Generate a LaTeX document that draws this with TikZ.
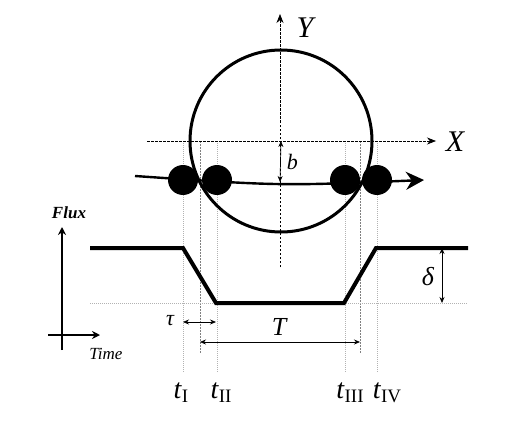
\documentclass[tikz,border=0pt]{standalone}
\usepackage{fontspec}
\setmainfont{Liberation Serif}
\usetikzlibrary{arrows.meta,backgrounds}
\newcommand{\tsub}[1]{\textit{t}\kern0.5pt\raisebox{-0.35ex}{\fontsize{19}{19}\selectfont\upshape #1}}

\begin{document}
\begin{tikzpicture}[x=1pt, y=-1pt,
    stardisc/.style={draw, circle, line width=3pt, minimum size=182pt, inner sep=0pt},
    planet/.style={circle, fill=black, minimum size=30pt, inner sep=0pt},
    axis/.style={line width=0.7pt, dash pattern=on 2.5pt off 1.5pt, -{Stealth[length=9pt,width=7pt]}},
    guide/.style={gray!60, line width=0.5pt, dash pattern=on 1pt off 1pt},
    limit/.style={gray, line width=0.6pt, dash pattern=on 2pt off 1pt},
    flux/.style={line width=4pt, line join=miter},
    dim/.style={line width=0.7pt, {Stealth[length=6pt,width=5pt]}-{Stealth[length=6pt,width=5pt]}},
    lab/.style={font=\fontsize{#1}{#1}\selectfont\itshape, inner sep=0pt},
]
    \useasboundingbox (0,0) rectangle (508,425);

    \node[stardisc] (star) at (281,141) {};

    \coordinate (xl) at (147,141);
    \coordinate (xr) at (436,141);
    \coordinate (yb) at (280,267);
    \coordinate (yt) at (280,14);
    \draw[axis] (xl) -- (xr);
    \draw[axis] (yb) -- (yt);
    \node[lab=30] (X) at (455,142) {X};
    \node[lab=30] (Y) at (305,28) {Y};

    \coordinate (pathL) at (135,176);
    \coordinate (pathR) at (424,180);
    \draw[line width=2.4pt, -{Stealth[length=18pt,width=18pt]}] (pathL) .. controls (280,186) .. (pathR);

    \node[planet] (p1) at (183,180) {};
    \node[planet] (p2) at (217,180) {};
    \node[planet] (p3) at (345,180) {};
    \node[planet] (p4) at (377,180) {};

    \node[lab=28, anchor=base] (t1) at (181,398) {\tsub{I}};
    \node[lab=28, anchor=base] (t2) at (221,398) {\tsub{II}};
    \node[lab=28, anchor=base] (t3) at (350,398) {\tsub{III}};
    \node[lab=28, anchor=base] (t4) at (387,398) {\tsub{IV}};

    \coordinate (lim1) at (200,141);
    \coordinate (lim2) at (360,141);
    \begin{scope}[on background layer]
    \foreach \p in {p1,p2,p3,p4}
        \draw[guide] (\p |- star.center) -- (\p |- 0,372);
    \draw[limit] (lim1) -- (lim1 |- 0,353);
    \draw[limit] (lim2) -- (lim2 |- 0,353);
    \end{scope}

    \draw[dim] (star.center) -- (280,182) node[lab=22, pos=0.5, right=6pt] (b) {b};

    \coordinate (f0) at (90,248);
    \coordinate (f1) at (183,248);
    \coordinate (f2) at (216,303);
    \coordinate (f3) at (344,303);
    \coordinate (f4) at (376,248);
    \coordinate (f5) at (468,248);
    \draw[guide] (f0 |- f2) -- (f5 |- f2);
    \draw[flux] (f0) -- (f1) -- (f2) -- (f3) -- (f4) -- (f5);

    \draw[dim] (442,248) -- (442,303);
    \node[lab=26] (delta) at (428,277) {δ};

    \draw[dim] (183,322) -- (216,322);
    \node[lab=22] (tau) at (170,321) {τ};
    \draw[dim] (lim1 |- 0,342) -- (lim2 |- 0,342);
    \node[lab=26] (T) at (279,327) {T};

    \draw[line width=2pt, -{Stealth[length=8pt,width=8pt]}] (62,350) -- (62,227);
    \draw[line width=2pt, -{Stealth[length=8pt,width=8pt]}] (48,335) -- (100,335);
    \node[lab=17] (flux) at (69,213) {\bfseries Flux};
    \node[lab=17] (time) at (106,354) {Time};
\end{tikzpicture}
\end{document}
